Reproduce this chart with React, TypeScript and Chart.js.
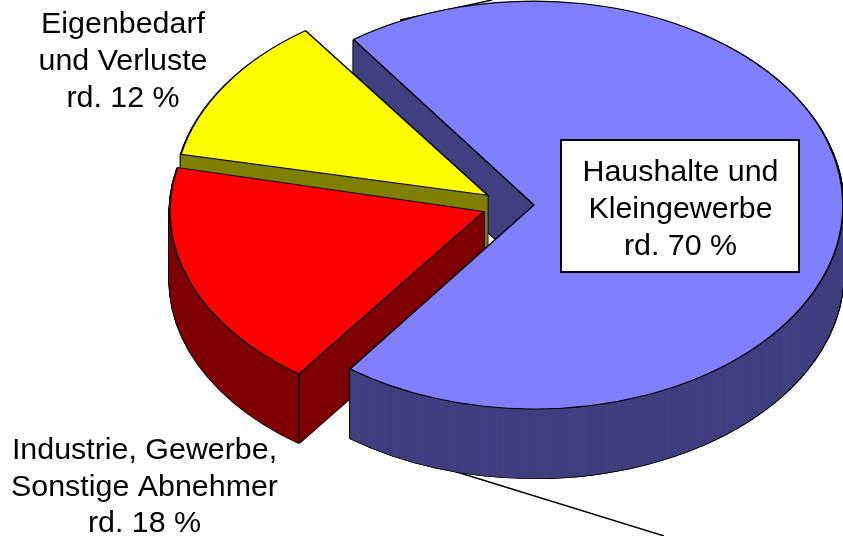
import React, { useEffect, useRef } from "react";
import { Chart, registerables } from "chart.js";

Chart.register(...registerables);

const categories = ["Haushalte und Kleingewerbe", "Industrie, Gewerbe, Sonstige Abnehmer", "Eigenbedarf und Verluste"];
const shares = [70, 18, 12];
const topColors = ["#8080FF", "#FF0000", "#FFFF00"];
const wallColors = ["#404080", "#800000", "#808000"];
const explode = [92, 116, 112];
const rimRadii = [309, 314, 313];
const tilts = [0.66, 0.64, 0.646];
const startNudges = [-0.4, 0, 0.6];
const endNudges = [1.2, 1.9, 0.7];

const boxLines = ["Haushalte und", "Kleingewerbe", "rd. 70 %"];
const yellowLines = ["Eigenbedarf", "und Verluste", "rd. 12 %"];
const redLines = ["Industrie, Gewerbe,", "Sonstige Abnehmer", "rd. 18 %"];

const CENTER_X = 511;
const CENTER_Y = 205;
const DEPTH = 69;
const RADIUS = 290;
const FONT = '30.4px "Liberation Sans", Arial, sans-serif';
const DEG = Math.PI / 180;

const pie3d = {
  id: "pie3d",
  beforeDatasetsDraw(chart: any) {
    const ctx: CanvasRenderingContext2D = chart.ctx;
    const arcs = chart.getDatasetMeta(0).data;

    const startOf = (arc: any, idx: number) => arc.startAngle + startNudges[idx] * DEG;
    const endOf = (arc: any, idx: number) => arc.endAngle + endNudges[idx] * DEG;

    const paint = (arc: any, idx: number, over: any, dy: number) => {
      const saved = { o: arc.options, r: arc.outerRadius, s: arc.startAngle, e: arc.endAngle, c: arc.circumference };
      const s = startOf(arc, idx);
      const e = endOf(arc, idx);
      // Chart.js widens an offset arc by offset * (1 - sin(sweep)); undo it to hit the wanted rim
      const grow = ((saved.o.offset || 0) / 4) * (1 - Math.sin(Math.min(Math.PI, e - s)));
      arc.options = { ...saved.o, ...over };
      arc.outerRadius = rimRadii[idx] - grow;
      arc.startAngle = s;
      arc.endAngle = e;
      arc.circumference = e - s;
      ctx.save();
      ctx.translate(CENTER_X, CENTER_Y + dy);
      ctx.scale(1, tilts[idx]);
      ctx.translate(-arc.x, -arc.y);
      arc.draw(ctx);
      ctx.restore();
      arc.options = saved.o;
      arc.outerRadius = saved.r;
      arc.startAngle = saved.s;
      arc.endAngle = saved.e;
      arc.circumference = saved.c;
    };

    const walls = (arc: any, idx: number) => {
      for (let dy = DEPTH; dy >= 1; dy--) {
        paint(arc, idx, { backgroundColor: "#000", borderColor: "#000", borderWidth: 3 }, dy);
      }
      for (let dy = DEPTH; dy >= 1; dy--) {
        paint(arc, idx, { backgroundColor: wallColors[idx], borderColor: wallColors[idx], borderWidth: 1 }, dy);
      }
    };
    const top = (arc: any, idx: number) => {
      paint(arc, idx, { backgroundColor: topColors[idx], borderColor: "#000", borderWidth: 1.6, borderJoinStyle: "miter" }, 0);
    };
    const apex = (arc: any, idx: number) => {
      const mid = (startOf(arc, idx) + endOf(arc, idx)) / 2;
      const off = (arc.options.offset || 0) / 4;
      return { x: CENTER_X + Math.cos(mid) * off, y: CENTER_Y + Math.sin(mid) * off * tilts[idx] };
    };
    const rim = (arc: any, idx: number, angle: number) => {
      const a = apex(arc, idx);
      const r = rimRadii[idx];
      return { x: a.x + Math.cos(angle) * r, y: a.y + Math.sin(angle) * r * tilts[idx] };
    };

    const [blue, red, yellow] = arcs;

    // leader lines sit behind the pie
    ctx.save();
    ctx.strokeStyle = "#000";
    ctx.lineWidth = 1.4;
    ctx.beginPath();
    ctx.moveTo(400, 20);
    ctx.lineTo(492, 0);
    ctx.moveTo(405, 456);
    ctx.lineTo(664, 536);
    ctx.stroke();
    ctx.restore();

    walls(blue, 0);
    walls(yellow, 2);
    top(yellow, 2);
    walls(red, 1);
    top(red, 1);

    // vertical edge between red rim wall and cut face
    const edge = rim(red, 1, startOf(red, 1));
    ctx.save();
    ctx.strokeStyle = "#000";
    ctx.lineWidth = 1.4;
    ctx.beginPath();
    ctx.moveTo(edge.x, edge.y);
    ctx.lineTo(edge.x, edge.y + DEPTH);
    ctx.stroke();
    ctx.restore();

    // front part of the blue wall covers red; the rear cut face stays behind yellow
    const a = apex(blue, 0);
    const p = rim(blue, 0, endOf(blue, 0));
    const vx = p.x - a.x;
    const vy = p.y - a.y;
    const nx = -vy;
    const ny = vx;
    const sign = nx * 1 + ny * 1 > 0 ? 1 : -1;
    ctx.save();
    ctx.beginPath();
    ctx.moveTo(a.x + vx * 3, a.y + vy * 3);
    ctx.lineTo(a.x - vx * 3, a.y - vy * 3);
    ctx.lineTo(a.x - vx * 3 + sign * nx * 5, a.y - vy * 3 + sign * ny * 5);
    ctx.lineTo(a.x + vx * 3 + sign * nx * 5, a.y + vy * 3 + sign * ny * 5);
    ctx.closePath();
    ctx.clip();
    walls(blue, 0);
    ctx.restore();
    top(blue, 0);
    return false;
  },
  afterDraw(chart: any) {
    const ctx: CanvasRenderingContext2D = chart.ctx;
    ctx.save();
    ctx.fillStyle = "#fff";
    ctx.strokeStyle = "#000";
    ctx.lineWidth = 2;
    ctx.fillRect(561, 140, 238, 132);
    ctx.strokeRect(561, 140, 238, 132);
    ctx.fillStyle = "#000";
    ctx.font = FONT;
    ctx.textAlign = "center";
    ctx.textBaseline = "alphabetic";
    boxLines.forEach((t, i) => ctx.fillText(t, 680.5, 181 + i * 37));
    yellowLines.forEach((t, i) => ctx.fillText(t, 123, 33 + i * 37));
    redLines.forEach((t, i) => ctx.fillText(t, 144.5, 459 + i * 36.5));
    ctx.restore();
  },
};

export default function App() {
  const ref = useRef<HTMLCanvasElement>(null);
  useEffect(() => {
    const chart = new Chart(ref.current as HTMLCanvasElement, {
      type: "pie",
      data: {
        labels: categories,
        datasets: [{ data: shares, backgroundColor: topColors, offset: explode, borderWidth: 0 }],
      },
      options: {
        responsive: false,
        animation: false,
        rotation: -36,
        radius: RADIUS,
        layout: { padding: 0 },
        plugins: { legend: { display: false }, tooltip: { enabled: false } },
      } as any,
      plugins: [pie3d as any],
    });
    return () => chart.destroy();
  }, []);
  return (
    <div style={{ position: "fixed", left: 0, top: 0, width: 843, height: 536, background: "#fff" }}>
      <canvas ref={ref} width={843} height={536} style={{ display: "block" }} />
    </div>
  );
}
